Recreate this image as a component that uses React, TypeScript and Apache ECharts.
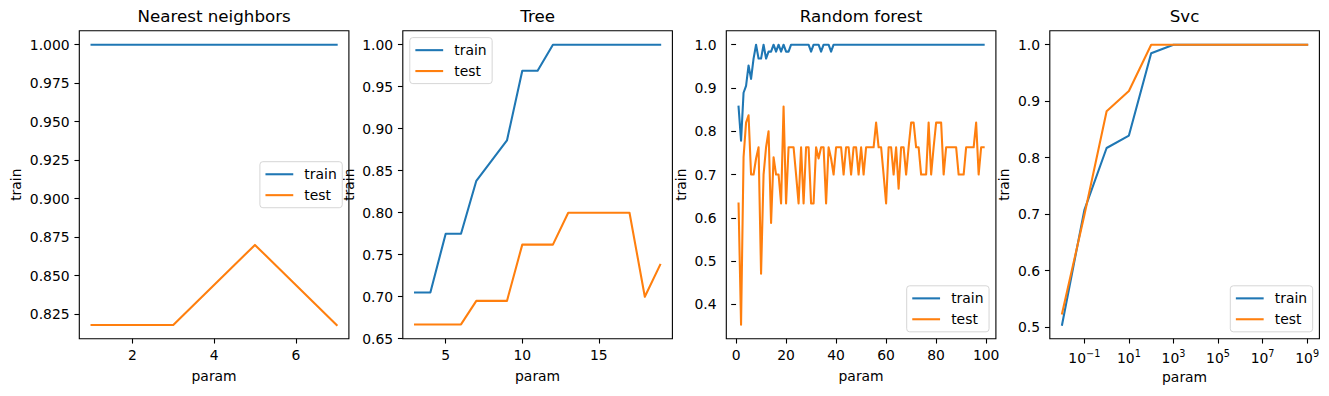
import React, { useEffect, useRef } from 'react';
import * as echarts from 'echarts';

const FONT = 'DejaVu Sans';
const BLUE = '#1f77b4';
const ORANGE = '#ff7f0e';

const titles = ['Nearest neighbors', 'Tree', 'Random forest', 'Svc'];
const xName = 'param';
const yName = 'train';
const seriesNames = ['train', 'test'];

// Nearest neighbors
const nnParam = [1, 3, 5, 7];
const nnTrain = [1.0, 1.0, 1.0, 1.0];
const nnTest = [0.818, 0.818, 0.870, 0.818];
const nnXTicks = [2, 4, 6];
const nnYTicks = [0.825, 0.85, 0.875, 0.9, 0.925, 0.95, 0.975, 1.0];

// Tree
const treeParam = [3, 4, 5, 6, 7, 8, 9, 10, 11, 12, 13, 14, 15, 16, 17, 18, 19];
const treeTrain = [0.705, 0.705, 0.775, 0.775, 0.838, 0.862, 0.886, 0.969, 0.969, 1.0, 1.0, 1.0, 1.0, 1.0, 1.0, 1.0, 1.0];
const treeTest = [0.667, 0.667, 0.667, 0.667, 0.695, 0.695, 0.695, 0.762, 0.762, 0.762, 0.8, 0.8, 0.8, 0.8, 0.8, 0.70, 0.738];
const treeXTicks = [5, 10, 15];
const treeYTicks = [0.65, 0.7, 0.75, 0.8, 0.85, 0.9, 0.95, 1.0];

// Random forest
const rfParam = [
  1, 2, 3, 4, 5, 6, 7, 8, 9, 10,
  11, 12, 13, 14, 15, 16, 17, 18, 19, 20,
  21, 22, 23, 24, 25, 26, 27, 28, 29, 30,
  31, 32, 33, 34, 35, 36, 37, 38, 39, 40,
  41, 42, 43, 44, 45, 46, 47, 48, 49, 50,
  51, 52, 53, 54, 55, 56, 57, 58, 59, 60,
  61, 62, 63, 64, 65, 66, 67, 68, 69, 70,
  71, 72, 73, 74, 75, 76, 77, 78, 79, 80,
  81, 82, 83, 84, 85, 86, 87, 88, 89, 90,
  91, 92, 93, 94, 95, 96, 97, 98, 99,
];
const rfTrain = [
  0.857, 0.778, 0.889, 0.905, 0.952, 0.921, 0.968, 1.0, 0.968, 0.968,
  1.0, 0.968, 0.984, 0.984, 1.0, 0.984, 1.0, 0.984, 1.0, 0.984,
  0.984, 1.0, 1.0, 1.0, 1.0, 1.0, 1.0, 1.0, 1.0, 0.984,
  1.0, 1.0, 1.0, 0.984, 1.0, 1.0, 1.0, 0.984, 1.0, 1.0,
  1.0, 1.0, 1.0, 1.0, 1.0, 1.0, 1.0, 1.0, 1.0, 1.0,
  1.0, 1.0, 1.0, 1.0, 1.0, 1.0, 1.0, 1.0, 1.0, 1.0,
  1.0, 1.0, 1.0, 1.0, 1.0, 1.0, 1.0, 1.0, 1.0, 1.0,
  1.0, 1.0, 1.0, 1.0, 1.0, 1.0, 1.0, 1.0, 1.0, 1.0,
  1.0, 1.0, 1.0, 1.0, 1.0, 1.0, 1.0, 1.0, 1.0, 1.0,
  1.0, 1.0, 1.0, 1.0, 1.0, 1.0, 1.0, 1.0, 1.0,
];
const rfTest = [
  0.633, 0.353, 0.740, 0.820, 0.837, 0.700, 0.700, 0.737, 0.763, 0.471,
  0.700, 0.763, 0.800, 0.588, 0.740, 0.700, 0.700, 0.633, 0.857, 0.633,
  0.763, 0.763, 0.763, 0.700, 0.633, 0.763, 0.633, 0.763, 0.763, 0.633,
  0.633, 0.763, 0.737, 0.763, 0.763, 0.633, 0.763, 0.737, 0.700, 0.763,
  0.763, 0.763, 0.700, 0.763, 0.763, 0.700, 0.763, 0.763, 0.700, 0.763,
  0.700, 0.763, 0.763, 0.763, 0.763, 0.820, 0.763, 0.763, 0.700, 0.633,
  0.763, 0.763, 0.700, 0.763, 0.667, 0.763, 0.763, 0.700, 0.763, 0.820,
  0.820, 0.763, 0.763, 0.700, 0.700, 0.700, 0.820, 0.700, 0.763, 0.820,
  0.820, 0.820, 0.700, 0.763, 0.763, 0.763, 0.763, 0.763, 0.700, 0.700,
  0.700, 0.763, 0.763, 0.763, 0.763, 0.820, 0.700, 0.763, 0.763,
];
const rfXTicks = [0, 20, 40, 60, 80, 100];
const rfYTicks = [0.4, 0.5, 0.6, 0.7, 0.8, 0.9, 1.0];

// SVC (log x)
const svcParam = [0.01, 0.1, 1, 10, 100, 1e3, 1e4, 1e5, 1e6, 1e7, 1e8, 1e9];
const svcTrain = [0.504, 0.707, 0.817, 0.839, 0.985, 1.0, 1.0, 1.0, 1.0, 1.0, 1.0, 1.0];
const svcTest = [0.524, 0.698, 0.882, 0.918, 1.0, 1.0, 1.0, 1.0, 1.0, 1.0, 1.0, 1.0];
const svcXTicks = [0.1, 10, 1e3, 1e5, 1e7, 1e9];
const svcYTicks = [0.5, 0.6, 0.7, 0.8, 0.9, 1.0];

// layout (px)
const PANEL_LEFT = [79.3, 402.8, 726.3, 1049.8];
const PANEL_W = 269.6;
const PANEL_TOP = 30.7;
const PANEL_H = 308;
const FS = 13.9;
const TITLE_FS = 16.7;
const LW = 2.08;

function fmtFixed(d: number) {
  return (v: number) => v.toFixed(d);
}
function fmtPow(v: number) {
  const e = Math.round(Math.log10(v));
  const s = e < 0 ? '\u2212' + String(-e) : String(e);
  return '{b|10}{e|' + s + '}';
}

function App() {
  const ref = useRef<HTMLDivElement>(null);
  useEffect(() => {
    if (!ref.current) return;
    const chart = echarts.init(ref.current, undefined, { renderer: 'svg' });

    const panels = [
      { x: nnParam, tr: nnTrain, te: nnTest, xmin: 0.7, xmax: 7.3, ymin: 0.80909, ymax: 1.00909, xt: nnXTicks, yt: nnYTicks, yf: fmtFixed(3), gap: 56, type: 'value', xf: (v: number) => String(v) },
      { x: treeParam, tr: treeTrain, te: treeTest, xmin: 2.2, xmax: 19.8, ymin: 0.65, ymax: 1.01667, xt: treeXTicks, yt: treeYTicks, yf: fmtFixed(2), gap: 47, type: 'value', xf: (v: number) => String(v) },
      { x: rfParam, tr: rfTrain, te: rfTest, xmin: -3.9, xmax: 103.9, ymin: 0.3206, ymax: 1.0324, xt: rfXTicks, yt: rfYTicks, yf: fmtFixed(1), gap: 38.5, type: 'value', xf: (v: number) => String(v) },
      { x: svcParam, tr: svcTrain, te: svcTest, xmin: Math.pow(10, -2.55), xmax: Math.pow(10, 9.55), ymin: 0.4792, ymax: 1.0248, xt: svcXTicks, yt: svcYTicks, yf: fmtFixed(1), gap: 38.5, type: 'log', xf: fmtPow },
    ];

    const tickStyle = { show: true, length: 4.86, lineStyle: { color: '#000', width: 1.1 } };
    const labelBase = { margin: 9.72, fontSize: FS, fontFamily: FONT, color: '#000' };
    const nameStyle = { fontSize: FS, fontFamily: FONT, color: '#000' };

    const grid = panels.map((_, i) => ({
      left: PANEL_LEFT[i], top: PANEL_TOP, width: PANEL_W, height: PANEL_H,
      show: true, borderColor: '#000', borderWidth: 1.1, backgroundColor: 'transparent',
      containLabel: false, outerBoundsMode: 'none',
    }));

    const xAxis = panels.map((p, i) => ({
      gridIndex: i, type: p.type, logBase: 10, min: p.xmin, max: p.xmax,
      axisLine: { show: false }, splitLine: { show: false }, minorTick: { show: false },
      axisTick: { ...tickStyle, customValues: p.xt },
      axisLabel: {
        ...labelBase, customValues: p.xt, formatter: p.xf,
        rich: {
          b: { fontSize: FS, fontFamily: FONT, color: '#000', lineHeight: 17, verticalAlign: 'bottom' },
          e: { fontSize: 9.7, fontFamily: FONT, color: '#000', lineHeight: 9.7, verticalAlign: 'top' },
        },
      },
      name: xName, nameLocation: 'middle', nameGap: 30, nameTextStyle: nameStyle,
    }));

    const yAxis = panels.map((p, i) => ({
      gridIndex: i, type: 'value', min: p.ymin, max: p.ymax,
      axisLine: { show: false }, splitLine: { show: false },
      axisTick: { ...tickStyle, customValues: p.yt },
      axisLabel: { ...labelBase, customValues: p.yt, formatter: p.yf },
      name: yName, nameLocation: 'middle', nameRotate: 90, nameGap: p.gap, nameTextStyle: nameStyle,
    }));

    const series: any[] = [];
    panels.forEach((p, i) => {
      [p.tr, p.te].forEach((ys, k) => {
        const color = k === 0 ? BLUE : ORANGE;
        series.push({
          type: 'line', name: seriesNames[k], xAxisIndex: i, yAxisIndex: i,
          data: p.x.map((x, j) => [x, ys[j]]),
          showSymbol: false, symbol: 'none', silent: true,
          lineStyle: { color, width: LW, join: 'round', cap: 'square' },
          itemStyle: { color }, emphasis: { disabled: true },
        });
      });
    });

    const legendPos = [
      { left: 259.9, top: 161.7 },
      { left: 409.8, top: 37.6 },
      { left: 906.7, top: 285.8 },
      { left: 1230.3, top: 285.8 },
    ];
    const legend = legendPos.map((lp) => ({
      data: seriesNames, orient: 'vertical', left: lp.left, top: lp.top,
      padding: [5.56, 5.56, 5.56, 5.56], itemGap: 6.9, itemWidth: 27.8, itemHeight: LW,
      icon: 'rect', selectedMode: false,
      backgroundColor: 'rgba(255,255,255,0.8)', borderColor: '#d6d6d6', borderWidth: 1, borderRadius: 3,
      textStyle: { fontSize: FS, fontFamily: FONT, color: '#000', lineHeight: 14, padding: [0, 0, 0, 6.1] },
    }));

    const graphic = titles.map((t, i) => ({
      type: 'text', x: PANEL_LEFT[i] + PANEL_W / 2, y: 16.4, silent: true,
      style: {
        text: t, fontSize: TITLE_FS, fontFamily: FONT, fill: '#000',
        align: 'center', verticalAlign: 'middle', textAlign: 'center', textVerticalAlign: 'middle',
      },
    }));

    chart.setOption({
      animation: false,
      backgroundColor: '#fff',
      textStyle: { fontFamily: FONT },
      grid, xAxis, yAxis, series, legend, graphic,
    } as any);

    return () => chart.dispose();
  }, []);

  return (
    <div
      ref={ref}
      style={{ position: 'fixed', left: 0, top: 0, width: 1329, height: 396, background: '#fff' }}
    />
  );
}

export default App;
